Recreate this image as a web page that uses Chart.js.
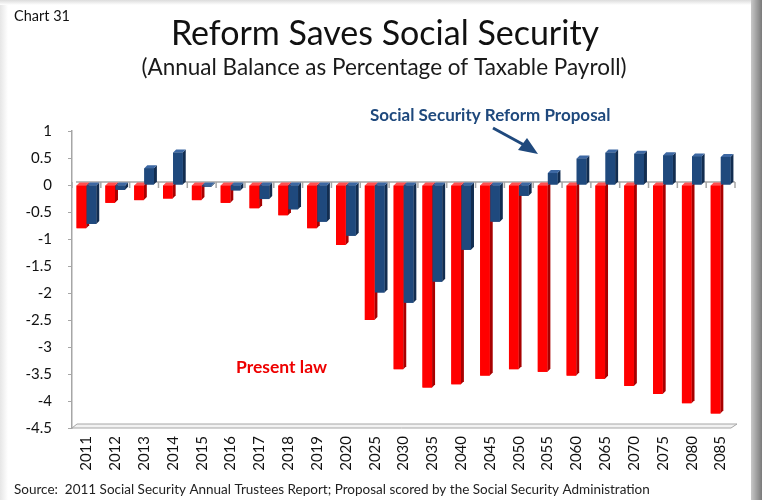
<!DOCTYPE html>
<html>
<head>
<meta charset="utf-8">
<script src="https://cdn.jsdelivr.net/npm/chart.js@4"></script>
<style>
  html, body { margin: 0; padding: 0; background: #fff; }
  #wrap { position: relative; width: 762px; height: 500px; overflow: hidden; }
  #chart { position: absolute; left: 0; top: 0; }
  .edge { position: absolute; pointer-events: none; }
  #edgeLeft { left: 0; top: 0; width: 8px; height: 500px; background: linear-gradient(to right, #e6e6e6, #fff); }
  #edgeTop { left: 0; top: 0; width: 762px; height: 5px; background: linear-gradient(to bottom, #dcdcdc, #fff); }
  #edgeRight { left: 751px; top: 0; width: 11px; height: 500px; background: linear-gradient(to right, #c8c8c8, #7a7a7a); }
</style>
</head>
<body>
<div id="wrap">
  <canvas id="chart" width="762" height="500"></canvas>
  <div class="edge" id="edgeLeft"></div>
  <div class="edge" id="edgeTop"></div>
  <div class="edge" id="edgeRight"></div>
</div>
<script>
const categories = ['2011', '2012', '2013', '2014', '2015', '2016', '2017', '2018', '2019', '2020',
  '2025', '2030', '2035', '2040', '2045', '2050', '2055', '2060', '2065', '2070', '2075', '2080', '2085'];

// annual balance, % of taxable payroll
const presentLaw = [-0.80, -0.33, -0.28, -0.25, -0.28, -0.33, -0.43, -0.56, -0.80, -1.11,
  -2.50, -3.41, -3.75, -3.69, -3.53, -3.41, -3.46, -3.53, -3.59, -3.72, -3.87, -4.04, -4.23];
const proposal = [-0.72, -0.09, 0.31, 0.60, -0.03, -0.10, -0.26, -0.45, -0.68, -0.94,
  -1.99, -2.18, -1.79, -1.20, -0.68, -0.20, 0.22, 0.49, 0.60, 0.58, 0.55, 0.53, 0.52];

const yMin = -4.5, yMax = 1, yStep = 0.5;

const FONT = 'Lato, "Open Sans", sans-serif';
const depth = 3;
const faces = [
  { front: '#ff0000', side: '#a80000', top: '#ff5050' },
  { front: '#1f497d', side: '#122d50', top: '#3d68a3' }
];

// fake 3D look: redraw each bar pair with a side and a top face
const bar3d = {
  id: 'bar3d',
  beforeDatasetsDraw(chart) {
    const { ctx, chartArea: a, scales: { x, y } } = chart;
    const y0 = y.getPixelForValue(0);
    ctx.save();
    ctx.strokeStyle = '#a6a6a6';
    ctx.lineWidth = 1.5;
    ctx.beginPath();
    ctx.moveTo(a.left + 4, y0 - depth);
    ctx.lineTo(a.right, y0 - depth);
    // small marks between categories
    for (let i = 0; i <= categories.length; i++) {
      const px = x.getPixelForValue(i - 0.5);
      ctx.moveTo(px, y0 - depth);
      ctx.lineTo(px, y0 + 3);
    }
    ctx.stroke();
    // floor
    ctx.fillStyle = '#f2f2f2';
    ctx.strokeStyle = '#a6a6a6';
    ctx.lineWidth = 1;
    ctx.beginPath();
    ctx.moveTo(a.left, a.bottom);
    ctx.lineTo(a.right - 4, a.bottom);
    ctx.lineTo(a.right + 2, a.bottom - 4);
    ctx.lineTo(a.left + 5, a.bottom - 4);
    ctx.closePath();
    ctx.fill();
    ctx.stroke();
    ctx.restore();
  },
  afterDatasetsDraw(chart) {
    const ctx = chart.ctx;
    const metas = [chart.getDatasetMeta(0), chart.getDatasetMeta(1)];
    ctx.save();
    for (let i = 0; i < categories.length; i++) {
      metas.forEach((meta, d) => {
        const el = meta.data[i];
        const c = faces[d];
        const l = el.x - el.width / 2, r = el.x + el.width / 2;
        const top = Math.min(el.y, el.base), bot = Math.max(el.y, el.base);
        ctx.fillStyle = c.side;
        ctx.beginPath();
        ctx.moveTo(r, top);
        ctx.lineTo(r + depth, top - depth);
        ctx.lineTo(r + depth, bot - depth);
        ctx.lineTo(r, bot);
        ctx.closePath();
        ctx.fill();
        ctx.fillStyle = c.top;
        ctx.beginPath();
        ctx.moveTo(l, top);
        ctx.lineTo(l + depth, top - depth);
        ctx.lineTo(r + depth, top - depth);
        ctx.lineTo(r, top);
        ctx.closePath();
        ctx.fill();
        ctx.fillStyle = c.front;
        ctx.fillRect(l, top, r - l, bot - top);
      });
    }
    ctx.restore();
  }
};

// headings, notes, arrow and source line
const labels = {
  id: 'labels',
  afterDraw(chart) {
    const ctx = chart.ctx;
    ctx.save();
    ctx.textBaseline = 'alphabetic';

    ctx.fillStyle = '#111';
    ctx.textAlign = 'left';
    ctx.font = '14.5px ' + FONT;
    ctx.fillText('Chart 31', 14, 21);

    ctx.textAlign = 'center';
    ctx.font = '34px ' + FONT;
    ctx.fillText('Reform Saves Social Security', 385, 45);
    ctx.font = '22.5px ' + FONT;
    ctx.fillStyle = '#1a1a1a';
    ctx.fillText('(Annual Balance as Percentage of Taxable Payroll)', 384, 75);

    ctx.textAlign = 'left';
    ctx.font = 'bold 17px ' + FONT;
    ctx.fillStyle = '#1f497d';
    ctx.fillText('Social Security Reform Proposal', 370, 121);
    ctx.fillStyle = '#ee0000';
    ctx.font = 'bold 17.5px ' + FONT;
    ctx.fillText('Present law', 236, 373);

    // arrow toward the 2055 bar
    ctx.strokeStyle = '#1f497d';
    ctx.fillStyle = '#1f497d';
    ctx.lineWidth = 3;
    ctx.beginPath();
    ctx.moveTo(493, 128);
    ctx.lineTo(526, 146);
    ctx.stroke();
    ctx.beginPath();
    ctx.moveTo(538, 154);
    ctx.lineTo(518, 150);
    ctx.lineTo(527, 138);
    ctx.closePath();
    ctx.fill();

    ctx.fillStyle = '#222';
    ctx.font = '13.5px ' + FONT;
    ctx.fillText('Source:  2011 Social Security Annual Trustees Report; Proposal scored by the Social Security Administration', 14, 494);
    ctx.restore();
  }
};

new Chart(document.getElementById('chart'), {
  type: 'bar',
  data: {
    labels: categories,
    datasets: [
      { label: 'Present law', data: presentLaw, backgroundColor: faces[0].front },
      { label: 'Social Security Reform Proposal', data: proposal, backgroundColor: faces[1].front }
    ]
  },
  options: {
    responsive: false,
    animation: false,
    layout: { padding: { top: 131, right: 27, left: 0, bottom: 0 } },
    datasets: { bar: { categoryPercentage: 0.7, barPercentage: 0.95 } },
    plugins: { legend: { display: false }, tooltip: { enabled: false } },
    scales: {
      x: {
        grid: { display: false, drawTicks: false },
        border: { display: false },
        ticks: {
          minRotation: 90, maxRotation: 90, padding: 8,
          color: '#111', font: { family: FONT, size: 15 }
        },
        afterFit: s => { s.height = 72; }
      },
      y: {
        min: yMin, max: yMax,
        grid: { drawOnChartArea: false, drawTicks: true, tickLength: 4, color: '#a6a6a6' },
        border: { display: true, color: '#a6a6a6', width: 1.5 },
        ticks: {
          stepSize: yStep, padding: 16,
          color: '#111', font: { family: FONT, size: 15 },
          callback: v => String(Math.round(v * 10) / 10)
        },
        afterFit: s => { s.width = 72; }
      }
    }
  },
  plugins: [bar3d, labels]
});
</script>
</body>
</html>
